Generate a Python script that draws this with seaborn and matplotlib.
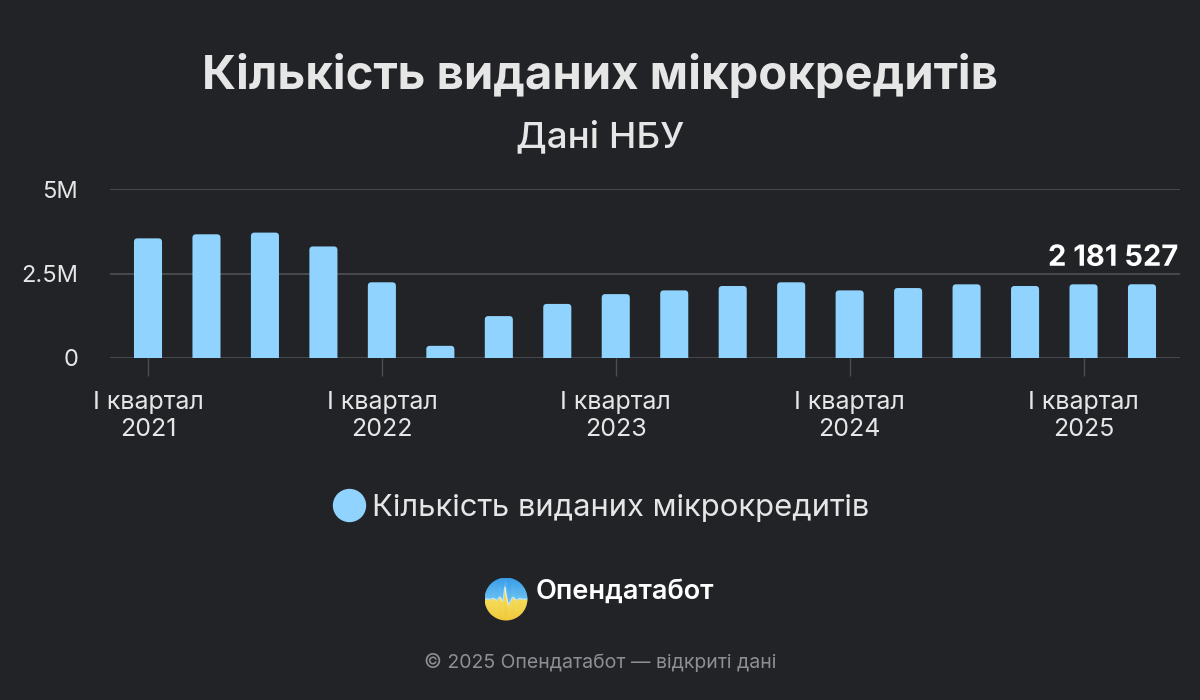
import numpy as np
import pandas as pd
import matplotlib
matplotlib.use("Agg")
import matplotlib.pyplot as plt
import seaborn as sns
from matplotlib import patheffects as pe
from matplotlib.patches import FancyBboxPatch, Circle
from matplotlib.lines import Line2D

# ---------------- data ----------------
years = [2021, 2021, 2021, 2021, 2022, 2022, 2022, 2022, 2023, 2023, 2023, 2023,
         2024, 2024, 2024, 2024, 2025, 2025]
quarters = ["I", "II", "III", "IV", "I", "II", "III", "IV", "I", "II", "III", "IV",
            "I", "II", "III", "IV", "I", "II"]
values = [3540000, 3660000, 3710000, 3300000, 2240000, 360000, 1240000, 1600000,
          1890000, 2000000, 2130000, 2240000, 2000000, 2070000, 2180000, 2130000,
          2180000, 2181527]
series_name = "Кількість виданих мікрокредитів"
title = "Кількість виданих мікрокредитів"
subtitle = "Дані НБУ"
y_ticks = [0, 2500000, 5000000]
y_tick_labels = ["0", "2.5M", "5M"]
footer = "© 2025 Опендатабот — відкриті дані"
brand = "Опендатабот"

# ---------------- style ----------------
BG = "#212327"
BAR = "#8fd3fe"
GRID = "#4a4d52"
TXT = "#e6e6e6"

sns.set_theme(style="dark")
plt.rcParams["font.family"] = ["Inter", "DejaVu Sans"]

labels = [f"{q} квартал {y}" for q, y in zip(quarters, years)]
df = pd.DataFrame({"label": labels, "value": values})

W, H = 1200, 700
fig = plt.figure(figsize=(12, 7), dpi=100, facecolor=BG)
ax = fig.add_axes([110 / W, 1 - 358 / H, 1070 / W, 169 / H])
ax.set_facecolor(BG)

sns.barplot(data=df, x="label", y="value", color=BAR, saturation=1, width=0.48, ax=ax)

ax.set_xlim(-0.65, len(values) - 1 + 0.65)
ax.set_ylim(0, 5000000)

# rounded-top bars replacing seaborn rectangles
x_units_per_px = (ax.get_xlim()[1] - ax.get_xlim()[0]) / 1070
y_units_per_px = 5000000 / 169
r_px = 3.5
for p in list(ax.patches):
    x0, y0, w, h = p.get_x(), p.get_y(), p.get_width(), p.get_height()
    p.set_visible(False)
    rr = r_px * x_units_per_px
    fb = FancyBboxPatch((x0, y0 - r_px * y_units_per_px), w, h + r_px * y_units_per_px,
                        boxstyle=f"round,pad=0,rounding_size={rr}",
                        mutation_aspect=y_units_per_px / x_units_per_px,
                        facecolor=BAR, edgecolor="none", zorder=3)
    ax.add_patch(fb)

for s in ax.spines.values():
    s.set_visible(False)

ax.set_yticks(y_ticks)
ax.set_yticklabels(y_tick_labels)
ax.yaxis.grid(True, color=GRID, lw=1.3)
ax.xaxis.grid(False)
ax.set_axisbelow(True)
ax.tick_params(axis="y", length=0, pad=23, labelsize=17, labelcolor=TXT)

xt = [i for i, q in enumerate(quarters) if q == "I"]
ax.set_xticks(xt)
ax.set_xticklabels([f"{quarters[i]} квартал\n{years[i]}" for i in xt])
ax.tick_params(axis="x", length=13, width=1, color=GRID, pad=11, labelsize=18,
               labelcolor=TXT, bottom=True)
for t in ax.get_xticklabels():
    t.set_linespacing(1.2)
ax.set_xlabel("")
ax.set_ylabel("")

# last value label
last = values[-1]
ax.annotate(f"{last:,}".replace(",", " "), xy=(ax.get_xlim()[1], last),
            xytext=(-1, 9), textcoords="offset points", ha="right", va="bottom",
            fontsize=21, fontweight="bold", color="white", zorder=5,
            annotation_clip=False,
            path_effects=[pe.withStroke(linewidth=3, foreground=BG)])

# titles
fig.text(0.5, 1 - 77 / H, title, ha="center", va="center", fontsize=34,
         fontweight="bold", color=TXT)
fig.text(0.5, 1 - 137 / H, subtitle, ha="center", va="center", fontsize=26.5,
         fontweight="medium", color=TXT)

# legend
handle = Line2D([], [], marker="o", ls="", markersize=23, color=BAR)
leg = fig.legend(handles=[handle], labels=[series_name], loc="center",
                 bbox_to_anchor=(0.5, 1 - 508 / H), frameon=False, fontsize=22.3,
                 handletextpad=0.15, handlelength=1.2)
for t in leg.get_texts():
    t.set_color(TXT)

# logo
d = 43
lax = fig.add_axes([(506 - d / 2) / W, 1 - (599 + d / 2) / H, d / W, d / H])
lax.set_axis_off()
n = 200
xx = np.linspace(0, 1, n)
pulse = 0.5 + 0.0 * xx
pulse += 0.28 * np.exp(-((xx - 0.47) / 0.025) ** 2) - 0.12 * np.exp(-((xx - 0.55) / 0.03) ** 2)
pulse += 0.06 * np.sin(xx * 40) * np.exp(-((xx - 0.5) / 0.25) ** 2)
yy = np.linspace(0, 1, n)[:, None]
img = np.zeros((n, n, 3))
blue_top = np.array([0x3a, 0x9c, 0xe8]) / 255
blue_bot = np.array([0x6c, 0xc3, 0xf2]) / 255
yel_top = np.array([0xf5, 0xdc, 0x5a]) / 255
yel_bot = np.array([0xf0, 0xc8, 0x3c]) / 255
for j in range(n):
    b = pulse[j]
    for i in range(n):
        yv = yy[i, 0]
        if yv > b:
            tt = (yv - b) / max(1 - b, 1e-6)
            img[i, j] = blue_bot * (1 - tt) + blue_top * tt
        else:
            tt = yv / max(b, 1e-6)
            img[i, j] = yel_bot * (1 - tt) + yel_top * tt
im = lax.imshow(img, origin="lower", extent=(0, 1, 0, 1))
circ = Circle((0.5, 0.5), 0.5, transform=lax.transData)
im.set_clip_path(circ)
lax.set_xlim(0, 1)
lax.set_ylim(0, 1)
lax.plot(xx, pulse, color="#ffffff", lw=0.8, alpha=0.6, clip_path=circ)

fig.text(536 / W, 1 - 592 / H, brand, ha="left", va="center", fontsize=19.5,
         fontweight="semibold", color="white")

fig.text(0.5, 1 - 663 / H, footer, ha="center", va="center", fontsize=14,
         color="#8c8f94")

fig.savefig("out.png", dpi=100, facecolor=BG)
